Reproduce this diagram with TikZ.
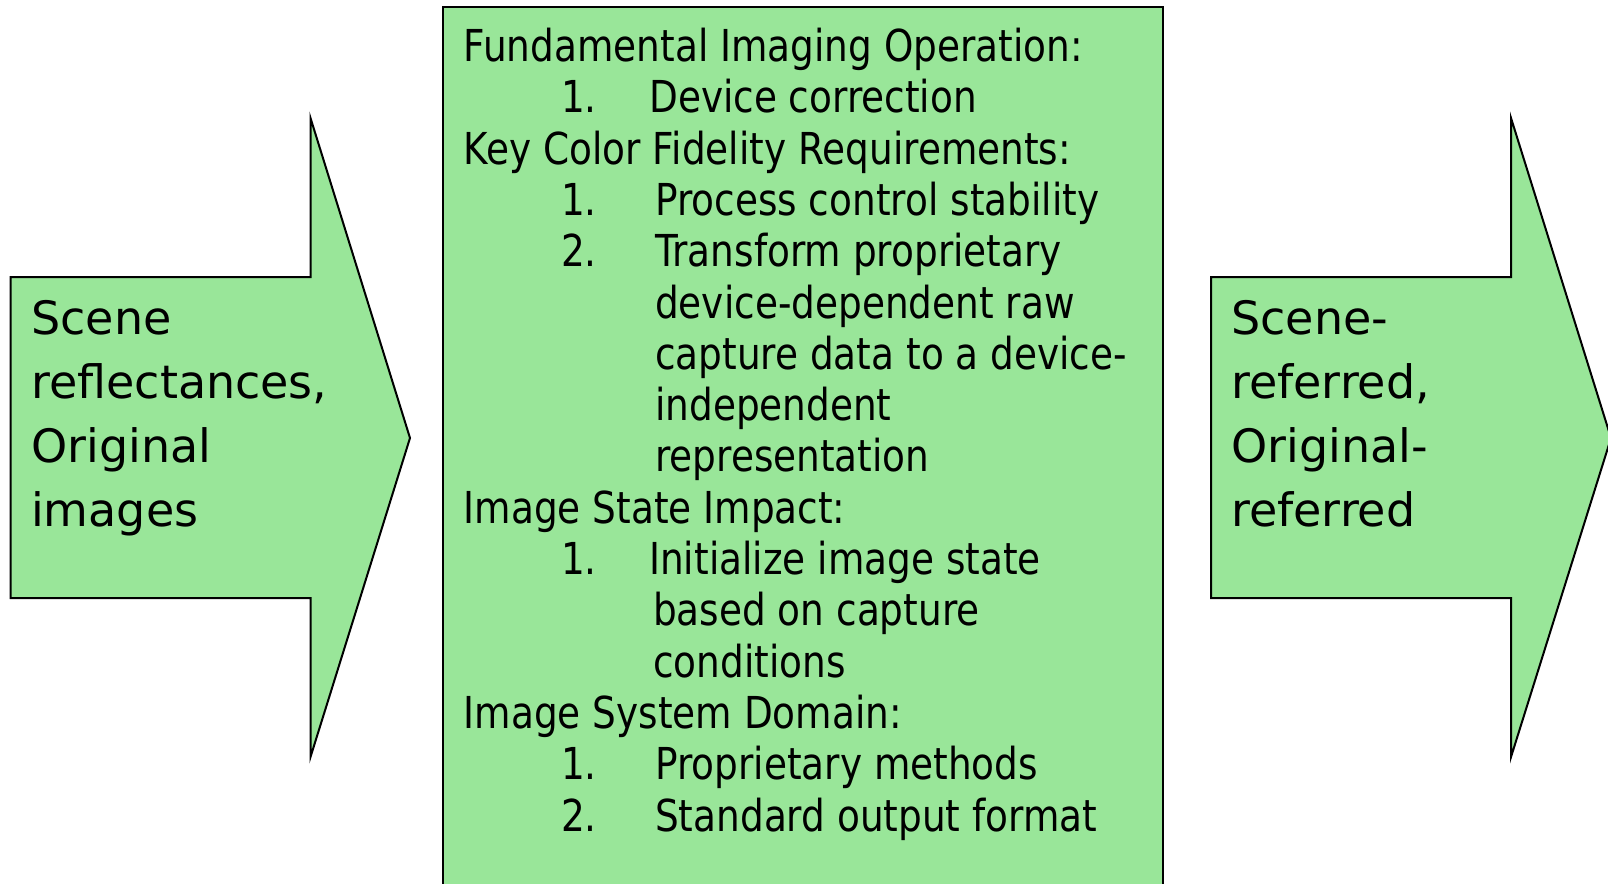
\documentclass[tikz,border=0pt]{standalone}
\usepackage{fontspec}
\setmainfont{DejaVu Sans}
\newfontfamily\condensed[FakeStretch=0.85]{DejaVu Sans}
\definecolor{boxgreen}{RGB}{153,230,153}

\begin{document}
\begin{tikzpicture}[x=1pt,y=-1pt,
  shapebody/.style={fill=boxgreen,draw=black,line width=2pt,line join=miter},
  arrowtext/.style={anchor=base west,inner sep=0pt,font=\fontsize{46}{64}\selectfont},
  listtext/.style={anchor=base west,inner sep=0pt,font=\condensed\fontsize{44}{51}\selectfont}]
\useasboundingbox (0,0) rectangle (1608,883);
\clip (0,0) rectangle (1608,883);

% input arrow
\path[shapebody] (10.5,277) -- (310.5,277) -- (310.5,118) -- (410,438)
  -- (310.5,757) -- (310.5,598) -- (10.5,598) -- cycle;
\node[arrowtext] (in1) at (31,334) {Scene};
\node[arrowtext] (in2) at (31,398) {reflectances,};
\node[arrowtext] (in3) at (31,462) {Original};
\node[arrowtext] (in4) at (31,526) {images};

% central process box
\path[shapebody] (443,7) rectangle (1163,900);

\node[listtext] (h1) at (463.5,61.5) {Fundamental Imaging Operation:};
\node[listtext] (n11) at (561,112.8) {1.};
\node[listtext] (t11) at (649,112.8) {Device correction};

\node[listtext] (h2) at (463.5,164.1) {Key Color Fidelity Requirements:};
\node[listtext] (n21) at (561,215.4) {1.};
\node[listtext] (t21) at (655,215.4) {Process control stability};
\node[listtext] (n22) at (561,266.7) {2.};
\node[listtext] (t22) at (655,266.7) {Transform proprietary};
\node[listtext] (t22b) at (655,318.0) {device-dependent raw};
\node[listtext] (t22c) at (655,369.3) {capture data to a device-};
\node[listtext] (t22d) at (655,420.6) {independent};
\node[listtext] (t22e) at (655,471.9) {representation};

\node[listtext] (h3) at (463.5,523.2) {Image State Impact:};
\node[listtext] (n31) at (561,574.5) {1.};
\node[listtext] (t31) at (649,574.5) {Initialize image state};
\node[listtext] (t31b) at (653,625.8) {based on capture};
\node[listtext] (t31c) at (653,677.1) {conditions};

\node[listtext] (h4) at (463.5,728.4) {Image System Domain:};
\node[listtext] (n41) at (561,779.7) {1.};
\node[listtext] (t41) at (655,779.7) {Proprietary methods};
\node[listtext] (n42) at (561,831.0) {2.};
\node[listtext] (t42) at (655,831.0) {Standard output format};

% output arrow
\path[shapebody] (1211,277) -- (1511,277) -- (1511,118) -- (1611,438)
  -- (1511,757) -- (1511,598) -- (1211,598) -- cycle;
\node[arrowtext] (out1) at (1231,334) {Scene-};
\node[arrowtext] (out2) at (1231,398) {referred,};
\node[arrowtext] (out3) at (1231,462) {Original-};
\node[arrowtext] (out4) at (1231,526) {referred};
\end{tikzpicture}
\end{document}
